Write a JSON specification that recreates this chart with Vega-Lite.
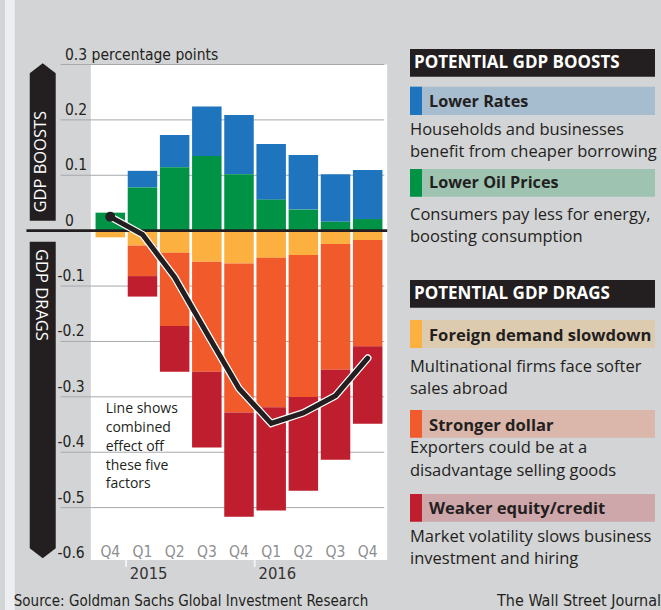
{
  "$schema": "https://vega.github.io/schema/vega-lite/v6.json",
  "background": "#d3d4d6",
  "padding": 0,
  "spacing": 0,
  "bounds": "flush",
  "config": {"view": {"stroke": null}},
  "datasets": {
    "factors": [
      {"period": "2014 Q4", "q": 0, "factor": "Lower Oil Prices", "value": 0.0325},
      {"period": "2014 Q4", "q": 0, "factor": "Foreign demand slowdown", "value": -0.012},
      {"period": "2015 Q1", "q": 1, "factor": "Lower Rates", "value": 0.030},
      {"period": "2015 Q1", "q": 1, "factor": "Lower Oil Prices", "value": 0.078},
      {"period": "2015 Q1", "q": 1, "factor": "Foreign demand slowdown", "value": -0.027},
      {"period": "2015 Q1", "q": 1, "factor": "Stronger dollar", "value": -0.055},
      {"period": "2015 Q1", "q": 1, "factor": "Weaker equity/credit", "value": -0.037},
      {"period": "2015 Q2", "q": 2, "factor": "Lower Rates", "value": 0.058},
      {"period": "2015 Q2", "q": 2, "factor": "Lower Oil Prices", "value": 0.1145},
      {"period": "2015 Q2", "q": 2, "factor": "Foreign demand slowdown", "value": -0.040},
      {"period": "2015 Q2", "q": 2, "factor": "Stronger dollar", "value": -0.132},
      {"period": "2015 Q2", "q": 2, "factor": "Weaker equity/credit", "value": -0.0825},
      {"period": "2015 Q3", "q": 3, "factor": "Lower Rates", "value": 0.089},
      {"period": "2015 Q3", "q": 3, "factor": "Lower Oil Prices", "value": 0.135},
      {"period": "2015 Q3", "q": 3, "factor": "Foreign demand slowdown", "value": -0.056},
      {"period": "2015 Q3", "q": 3, "factor": "Stronger dollar", "value": -0.1985},
      {"period": "2015 Q3", "q": 3, "factor": "Weaker equity/credit", "value": -0.137},
      {"period": "2015 Q4", "q": 4, "factor": "Lower Rates", "value": 0.107},
      {"period": "2015 Q4", "q": 4, "factor": "Lower Oil Prices", "value": 0.102},
      {"period": "2015 Q4", "q": 4, "factor": "Foreign demand slowdown", "value": -0.0595},
      {"period": "2015 Q4", "q": 4, "factor": "Stronger dollar", "value": -0.269},
      {"period": "2015 Q4", "q": 4, "factor": "Weaker equity/credit", "value": -0.188},
      {"period": "2016 Q1", "q": 5, "factor": "Lower Rates", "value": 0.1005},
      {"period": "2016 Q1", "q": 5, "factor": "Lower Oil Prices", "value": 0.056},
      {"period": "2016 Q1", "q": 5, "factor": "Foreign demand slowdown", "value": -0.049},
      {"period": "2016 Q1", "q": 5, "factor": "Stronger dollar", "value": -0.270},
      {"period": "2016 Q1", "q": 5, "factor": "Weaker equity/credit", "value": -0.186},
      {"period": "2016 Q2", "q": 6, "factor": "Lower Rates", "value": 0.0985},
      {"period": "2016 Q2", "q": 6, "factor": "Lower Oil Prices", "value": 0.038},
      {"period": "2016 Q2", "q": 6, "factor": "Foreign demand slowdown", "value": -0.044},
      {"period": "2016 Q2", "q": 6, "factor": "Stronger dollar", "value": -0.2565},
      {"period": "2016 Q2", "q": 6, "factor": "Weaker equity/credit", "value": -0.169},
      {"period": "2016 Q3", "q": 7, "factor": "Lower Rates", "value": 0.086},
      {"period": "2016 Q3", "q": 7, "factor": "Lower Oil Prices", "value": 0.016},
      {"period": "2016 Q3", "q": 7, "factor": "Foreign demand slowdown", "value": -0.024},
      {"period": "2016 Q3", "q": 7, "factor": "Stronger dollar", "value": -0.227},
      {"period": "2016 Q3", "q": 7, "factor": "Weaker equity/credit", "value": -0.1625},
      {"period": "2016 Q4", "q": 8, "factor": "Lower Rates", "value": 0.0885},
      {"period": "2016 Q4", "q": 8, "factor": "Lower Oil Prices", "value": 0.021},
      {"period": "2016 Q4", "q": 8, "factor": "Foreign demand slowdown", "value": -0.017},
      {"period": "2016 Q4", "q": 8, "factor": "Stronger dollar", "value": -0.1915},
      {"period": "2016 Q4", "q": 8, "factor": "Weaker equity/credit", "value": -0.140}
    ],
    "combined": [
      {"q": 0, "quarter": "Q4", "year": "2014", "combined": 0.025},
      {"q": 1, "quarter": "Q1", "year": "2015", "combined": -0.007},
      {"q": 2, "quarter": "Q2", "year": "2015", "combined": -0.084},
      {"q": 3, "quarter": "Q3", "year": "2015", "combined": -0.185},
      {"q": 4, "quarter": "Q4", "year": "2015", "combined": -0.285},
      {"q": 5, "quarter": "Q1", "year": "2016", "combined": -0.348},
      {"q": 6, "quarter": "Q2", "year": "2016", "combined": -0.329},
      {"q": 7, "quarter": "Q3", "year": "2016", "combined": -0.298},
      {"q": 8, "quarter": "Q4", "year": "2016", "combined": -0.23}
    ],
    "grid": [
      {"v": 0.3}, {"v": 0.2}, {"v": 0.1}, {"v": -0.1}, {"v": -0.2}, {"v": -0.3}, {"v": -0.4}, {"v": -0.5}
    ]
  },
  "hconcat": [
    {
      "width": 400,
      "height": 610,
      "data": {"values": [{}]},
      "resolve": {"axis": {"y": "independent"}},
      "layer": [
        {
          "mark": {"type": "rect", "color": "#eceef2"},
          "encoding": {
            "x": {"datum": -3.2727, "type": "quantitative", "scale": {"domain": [-3.272727, 8.848485], "nice": false, "zero": false}, "axis": null},
            "x2": {"datum": -2.9697},
            "y": {"datum": 0.41645, "type": "quantitative", "scale": {"domain": [-0.68485, 0.41645], "nice": false, "zero": false}, "axis": null},
            "y2": {"datum": -0.68485}
          }
        },
        {
          "mark": {"type": "rect", "color": "#ffffff"},
          "encoding": {
            "x": {"datum": -0.6061, "type": "quantitative", "axis": null},
            "x2": {"datum": 8.6061},
            "y": {"datum": 0.3, "type": "quantitative",
              "axis": {
                "orient": "left", "offset": -57, "title": null,
                "values": [-0.1, -0.2, -0.3, -0.4, -0.5, -0.6],
                "domain": false, "ticks": false, "grid": false,
                "labelAlign": "left", "labelBaseline": "alphabetic", "labelOffset": -5.5,
                "labelPadding": 0,
                "labelExpr": "'-' + format(-datum.value, '.1~f')",
                "labelFont": "Liberation Sans Narrow, DejaVu Sans Condensed, Roboto, sans-serif",
                "labelFontSize": 15.5, "labelColor": "#231f20",
                "labelOverlap": false, "labelLimit": 0, "labelFlush": false, "zindex": 1
              }
            },
            "y2": {"datum": -0.5946}
          }
        },
        {
          "data": {"name": "grid"},
          "mark": {"type": "rule", "color": "#a6a8ab", "strokeWidth": 1},
          "encoding": {
            "x": {"datum": -1.5455, "type": "quantitative", "axis": null},
            "x2": {"datum": 8.5152},
            "y": {
              "field": "v", "type": "quantitative", "title": null,
              "scale": {"domain": [-0.68485, 0.41645], "nice": false, "zero": false},
              "axis": {
                "orient": "left", "offset": -64.5, "title": null,
                "values": [0.3, 0.2, 0.1, 0],
                "domain": false, "ticks": false, "grid": false,
                "labelAlign": "left", "labelBaseline": "alphabetic", "labelOffset": -5.5,
                "labelPadding": 0,
                "labelExpr": "datum.value == 0.3 ? '0.3 percentage points' : format(datum.value, '.1~f')",
                "labelFont": "Liberation Sans Narrow, DejaVu Sans Condensed, Roboto, sans-serif",
                "labelFontSize": 15.5, "labelColor": "#231f20",
                "labelOverlap": false, "labelLimit": 0, "labelFlush": false, "zindex": 1
              }
            }
          }
        },
        {
          "mark": {"type": "point", "filled": true, "opacity": 1, "color": "#231f20", "shape": "M-0.165,1L-0.165,-0.873L0,-1L0.165,-0.873L0.165,1Z", "size": 24775},
          "encoding": {
            "x": {"datum": -2.1, "type": "quantitative", "axis": null},
            "y": {"datum": 0.16008, "type": "quantitative", "axis": null}
          }
        },
        {
          "mark": {"type": "point", "filled": true, "opacity": 1, "color": "#231f20", "shape": "M-0.0821,-1L0.0821,-1L0.0821,0.937L0,1L-0.0821,0.937Z", "size": 100236},
          "encoding": {
            "x": {"datum": -2.1, "type": "quantitative", "axis": null},
            "y": {"datum": -0.30571, "type": "quantitative", "axis": null}
          }
        },
        {
          "mark": {"type": "text", "color": "#ffffff", "angle": 270, "align": "center", "baseline": "middle", "font": "Open Sans, sans-serif", "fontSize": 16.5},
          "encoding": {
            "x": {"datum": -2.1455, "type": "quantitative", "axis": null},
            "y": {"datum": 0.1245, "type": "quantitative", "axis": null},
            "text": {"value": "GDP BOOSTS"}
          }
        },
        {
          "mark": {"type": "text", "color": "#ffffff", "angle": 90, "align": "center", "baseline": "middle", "font": "Open Sans, sans-serif", "fontSize": 16.5},
          "encoding": {
            "x": {"datum": -2.1606, "type": "quantitative", "axis": null},
            "y": {"datum": -0.1161, "type": "quantitative", "axis": null},
            "text": {"value": "GDP DRAGS"}
          }
        },
        {
          "data": {"name": "factors"},
          "mark": {"type": "bar", "width": 29.5},
          "encoding": {
            "x": {"field": "q", "type": "quantitative", "axis": null, "title": null},
            "y": {"field": "value", "type": "quantitative", "stack": "zero", "title": null, "axis": null,
                  "scale": {"domain": [-0.68485, 0.41645], "nice": false, "zero": false}},
            "color": {
              "field": "factor", "type": "nominal", "legend": null,
              "scale": {
                "domain": ["Lower Rates", "Lower Oil Prices", "Foreign demand slowdown", "Stronger dollar", "Weaker equity/credit"],
                "range": ["#1f75bd", "#009345", "#fbb040", "#f15a2b", "#be1e2d"]
              }
            },
            "order": {"field": "factor", "sort": "ascending"}
          }
        },
        {
          "mark": {"type": "rule", "color": "#231f20", "strokeWidth": 2.7},
          "encoding": {
            "x": {"datum": -2.6061, "type": "quantitative", "axis": null},
            "x2": {"datum": 8.6061},
            "y": {"datum": 0, "type": "quantitative", "axis": null}
          }
        },
        {
          "data": {"name": "combined"},
          "mark": {"type": "line", "color": "#ffffff", "strokeWidth": 7.5, "strokeCap": "round", "strokeJoin": "miter"},
          "encoding": {
            "x": {"field": "q", "type": "quantitative", "axis": null},
            "y": {"field": "combined", "type": "quantitative", "title": null, "axis": null}
          }
        },
        {
          "data": {"name": "combined"},
          "mark": {"type": "line", "color": "#231f20", "strokeWidth": 5, "strokeCap": "round", "strokeJoin": "miter"},
          "encoding": {
            "x": {"field": "q", "type": "quantitative", "axis": null},
            "y": {"field": "combined", "type": "quantitative", "title": null, "axis": null}
          }
        },
        {
          "data": {"name": "combined"},
          "transform": [{"filter": "datum.q == 0"}],
          "mark": {"type": "point", "filled": true, "opacity": 1, "color": "#231f20", "size": 100},
          "encoding": {
            "x": {"field": "q", "type": "quantitative", "axis": null},
            "y": {"field": "combined", "type": "quantitative", "title": null, "axis": null}
          }
        },
        {
          "data": {"name": "combined"},
          "mark": {"type": "text", "baseline": "alphabetic", "align": "center", "font": "Liberation Sans Narrow, DejaVu Sans Condensed, Roboto, sans-serif", "fontSize": 15.5, "color": "#8c8e90"},
          "encoding": {
            "x": {"field": "q", "type": "quantitative", "axis": null},
            "y": {"datum": -0.5886, "type": "quantitative", "axis": null},
            "text": {"field": "quarter", "type": "nominal"}
          }
        },
        {
          "data": {"name": "combined"},
          "transform": [{"filter": "datum.quarter == 'Q1'"}],
          "mark": {"type": "text", "baseline": "alphabetic", "align": "left", "dx": -12.7, "font": "Liberation Sans Narrow, DejaVu Sans Condensed, Roboto, sans-serif", "fontSize": 16.5, "color": "#333333"},
          "encoding": {
            "x": {"field": "q", "type": "quantitative", "axis": null},
            "y": {"datum": -0.6289, "type": "quantitative", "axis": null},
            "text": {"field": "year", "type": "nominal"}
          }
        },
        {
          "data": {"name": "combined"},
          "transform": [{"filter": "datum.quarter == 'Q1'"}],
          "mark": {"type": "rule", "color": "#f2f2f2", "strokeWidth": 2, "xOffset": -16.5},
          "encoding": {
            "x": {"field": "q", "type": "quantitative", "axis": null},
            "y": {"datum": -0.5946, "type": "quantitative", "axis": null},
            "y2": {"datum": -0.6073}
          }
        },
        {
          "mark": {"type": "text", "align": "left", "baseline": "alphabetic", "font": "Open Sans, sans-serif", "fontSize": 14, "lineHeight": 18.8, "color": "#231f20"},
          "encoding": {
            "x": {"datum": -0.1424, "type": "quantitative", "axis": null},
            "y": {"datum": -0.3297, "type": "quantitative", "axis": null},
            "text": {"value": ["Line shows", "combined", "effect off", "these five", "factors"]}
          }
        },
        {
          "mark": {"type": "text", "align": "left", "baseline": "alphabetic", "font": "Liberation Sans Narrow, DejaVu Sans Condensed, Roboto, sans-serif", "fontSize": 15, "color": "#231f20"},
          "encoding": {
            "x": {"datum": -3.0, "type": "quantitative", "axis": null},
            "y": {"datum": -0.6773, "type": "quantitative", "axis": null},
            "text": {"value": "Source: Goldman Sachs Global Investment Research"}
          }
        }
      ]
    },
    {
      "width": 261,
      "height": 610,
      "data": {"values": [{}]},
      "layer": [
        {
          "mark": {"type": "rect", "color": "#231f20"},
          "encoding": {
            "x": {"datum": 410, "type": "quantitative", "scale": {"domain": [400, 661], "nice": false, "zero": false}, "axis": null},
            "x2": {"datum": 655},
            "y": {"datum": 49, "type": "quantitative", "scale": {"domain": [0, 610], "reverse": true, "nice": false, "zero": false}, "axis": null},
            "y2": {"datum": 76.7}
          }
        },
        {
          "mark": {"type": "text", "align": "left", "baseline": "alphabetic", "font": "Open Sans, sans-serif", "fontWeight": "bold", "fontSize": 17, "color": "#ffffff"},
          "encoding": {
            "x": {"datum": 414, "type": "quantitative", "axis": null},
            "y": {"datum": 68.3, "type": "quantitative", "axis": null},
            "text": {"value": "POTENTIAL GDP BOOSTS"}
          }
        },
        {
          "mark": {"type": "rect", "color": "#231f20"},
          "encoding": {
            "x": {"datum": 410, "type": "quantitative", "axis": null},
            "x2": {"datum": 655},
            "y": {"datum": 280, "type": "quantitative", "axis": null},
            "y2": {"datum": 307.7}
          }
        },
        {
          "mark": {"type": "text", "align": "left", "baseline": "alphabetic", "font": "Open Sans, sans-serif", "fontWeight": "bold", "fontSize": 17, "color": "#ffffff"},
          "encoding": {
            "x": {"datum": 414, "type": "quantitative", "axis": null},
            "y": {"datum": 299, "type": "quantitative", "axis": null},
            "text": {"value": "POTENTIAL GDP DRAGS"}
          }
        },

        {"mark": {"type": "rect", "opacity": 0.25}, "encoding": {"x": {"datum": 410, "type": "quantitative", "axis": null}, "x2": {"datum": 655}, "y": {"datum": 86.7, "type": "quantitative", "axis": null}, "y2": {"datum": 115}, "color": {"datum": "Lower Rates", "type": "nominal", "legend": null}}},
        {"mark": {"type": "rect"}, "encoding": {"x": {"datum": 410, "type": "quantitative", "axis": null}, "x2": {"datum": 422}, "y": {"datum": 86.7, "type": "quantitative", "axis": null}, "y2": {"datum": 115}, "color": {"datum": "Lower Rates", "type": "nominal", "legend": null}}},
        {"mark": {"type": "text", "align": "left", "baseline": "alphabetic", "font": "Open Sans, sans-serif", "fontWeight": "bold", "fontSize": 16.2, "color": "#231f20"}, "encoding": {"x": {"datum": 429, "type": "quantitative", "axis": null}, "y": {"datum": 106.7, "type": "quantitative", "axis": null}, "text": {"value": "Lower Rates"}}},
        {"mark": {"type": "text", "align": "left", "baseline": "alphabetic", "font": "Open Sans, sans-serif", "fontSize": 16.5, "lineHeight": 22.3, "color": "#231f20"}, "encoding": {"x": {"datum": 410, "type": "quantitative", "axis": null}, "y": {"datum": 135, "type": "quantitative", "axis": null}, "text": {"value": ["Households and businesses", "benefit from cheaper borrowing"]}}},

        {"mark": {"type": "rect", "opacity": 0.25}, "encoding": {"x": {"datum": 410, "type": "quantitative", "axis": null}, "x2": {"datum": 655}, "y": {"datum": 169, "type": "quantitative", "axis": null}, "y2": {"datum": 196.7}, "color": {"datum": "Lower Oil Prices", "type": "nominal", "legend": null}}},
        {"mark": {"type": "rect"}, "encoding": {"x": {"datum": 410, "type": "quantitative", "axis": null}, "x2": {"datum": 422}, "y": {"datum": 169, "type": "quantitative", "axis": null}, "y2": {"datum": 196.7}, "color": {"datum": "Lower Oil Prices", "type": "nominal", "legend": null}}},
        {"mark": {"type": "text", "align": "left", "baseline": "alphabetic", "font": "Open Sans, sans-serif", "fontWeight": "bold", "fontSize": 16.2, "color": "#231f20"}, "encoding": {"x": {"datum": 429, "type": "quantitative", "axis": null}, "y": {"datum": 188.3, "type": "quantitative", "axis": null}, "text": {"value": "Lower Oil Prices"}}},
        {"mark": {"type": "text", "align": "left", "baseline": "alphabetic", "font": "Open Sans, sans-serif", "fontSize": 16.5, "lineHeight": 22.3, "color": "#231f20"}, "encoding": {"x": {"datum": 410, "type": "quantitative", "axis": null}, "y": {"datum": 220, "type": "quantitative", "axis": null}, "text": {"value": ["Consumers pay less for energy,", "boosting consumption"]}}},

        {"mark": {"type": "rect", "opacity": 0.25}, "encoding": {"x": {"datum": 410, "type": "quantitative", "axis": null}, "x2": {"datum": 655}, "y": {"datum": 320, "type": "quantitative", "axis": null}, "y2": {"datum": 348}, "color": {"datum": "Foreign demand slowdown", "type": "nominal", "legend": null}}},
        {"mark": {"type": "rect"}, "encoding": {"x": {"datum": 410, "type": "quantitative", "axis": null}, "x2": {"datum": 422}, "y": {"datum": 320, "type": "quantitative", "axis": null}, "y2": {"datum": 348}, "color": {"datum": "Foreign demand slowdown", "type": "nominal", "legend": null}}},
        {"mark": {"type": "text", "align": "left", "baseline": "alphabetic", "font": "Open Sans, sans-serif", "fontWeight": "bold", "fontSize": 16.6, "color": "#231f20"}, "encoding": {"x": {"datum": 429, "type": "quantitative", "axis": null}, "y": {"datum": 341, "type": "quantitative", "axis": null}, "text": {"value": "Foreign demand slowdown"}}},
        {"mark": {"type": "text", "align": "left", "baseline": "alphabetic", "font": "Open Sans, sans-serif", "fontSize": 16.5, "lineHeight": 22.3, "color": "#231f20"}, "encoding": {"x": {"datum": 410, "type": "quantitative", "axis": null}, "y": {"datum": 371.7, "type": "quantitative", "axis": null}, "text": {"value": ["Multinational firms face softer", "sales abroad"]}}},

        {"mark": {"type": "rect", "opacity": 0.25}, "encoding": {"x": {"datum": 410, "type": "quantitative", "axis": null}, "x2": {"datum": 655}, "y": {"datum": 410, "type": "quantitative", "axis": null}, "y2": {"datum": 437.7}, "color": {"datum": "Stronger dollar", "type": "nominal", "legend": null}}},
        {"mark": {"type": "rect"}, "encoding": {"x": {"datum": 410, "type": "quantitative", "axis": null}, "x2": {"datum": 422}, "y": {"datum": 410, "type": "quantitative", "axis": null}, "y2": {"datum": 437.7}, "color": {"datum": "Stronger dollar", "type": "nominal", "legend": null}}},
        {"mark": {"type": "text", "align": "left", "baseline": "alphabetic", "font": "Open Sans, sans-serif", "fontWeight": "bold", "fontSize": 16.6, "color": "#231f20"}, "encoding": {"x": {"datum": 429, "type": "quantitative", "axis": null}, "y": {"datum": 430.7, "type": "quantitative", "axis": null}, "text": {"value": "Stronger dollar"}}},
        {"mark": {"type": "text", "align": "left", "baseline": "alphabetic", "font": "Open Sans, sans-serif", "fontSize": 16.5, "lineHeight": 22.3, "color": "#231f20"}, "encoding": {"x": {"datum": 410, "type": "quantitative", "axis": null}, "y": {"datum": 453.3, "type": "quantitative", "axis": null}, "text": {"value": ["Exporters could be at a", "disadvantage selling goods"]}}},

        {"mark": {"type": "rect", "opacity": 0.25}, "encoding": {"x": {"datum": 410, "type": "quantitative", "axis": null}, "x2": {"datum": 655}, "y": {"datum": 494, "type": "quantitative", "axis": null}, "y2": {"datum": 521.7}, "color": {"datum": "Weaker equity/credit", "type": "nominal", "legend": null}}},
        {"mark": {"type": "rect"}, "encoding": {"x": {"datum": 410, "type": "quantitative", "axis": null}, "x2": {"datum": 422}, "y": {"datum": 494, "type": "quantitative", "axis": null}, "y2": {"datum": 521.7}, "color": {"datum": "Weaker equity/credit", "type": "nominal", "legend": null}}},
        {"mark": {"type": "text", "align": "left", "baseline": "alphabetic", "font": "Open Sans, sans-serif", "fontWeight": "bold", "fontSize": 16.6, "color": "#231f20"}, "encoding": {"x": {"datum": 429, "type": "quantitative", "axis": null}, "y": {"datum": 514, "type": "quantitative", "axis": null}, "text": {"value": "Weaker equity/credit"}}},
        {"mark": {"type": "text", "align": "left", "baseline": "alphabetic", "font": "Open Sans, sans-serif", "fontSize": 16.5, "lineHeight": 22.3, "color": "#231f20"}, "encoding": {"x": {"datum": 410, "type": "quantitative", "axis": null}, "y": {"datum": 541.7, "type": "quantitative", "axis": null}, "text": {"value": ["Market volatility slows business", "investment and hiring"]}}},

        {"mark": {"type": "text", "align": "right", "baseline": "alphabetic", "font": "Liberation Sans Narrow, DejaVu Sans Condensed, Roboto, sans-serif", "fontSize": 16, "color": "#231f20"}, "encoding": {"x": {"datum": 661, "type": "quantitative", "axis": null}, "y": {"datum": 606, "type": "quantitative", "axis": null}, "text": {"value": "The Wall Street Journal"}}}
      ]
    }
  ]
}
